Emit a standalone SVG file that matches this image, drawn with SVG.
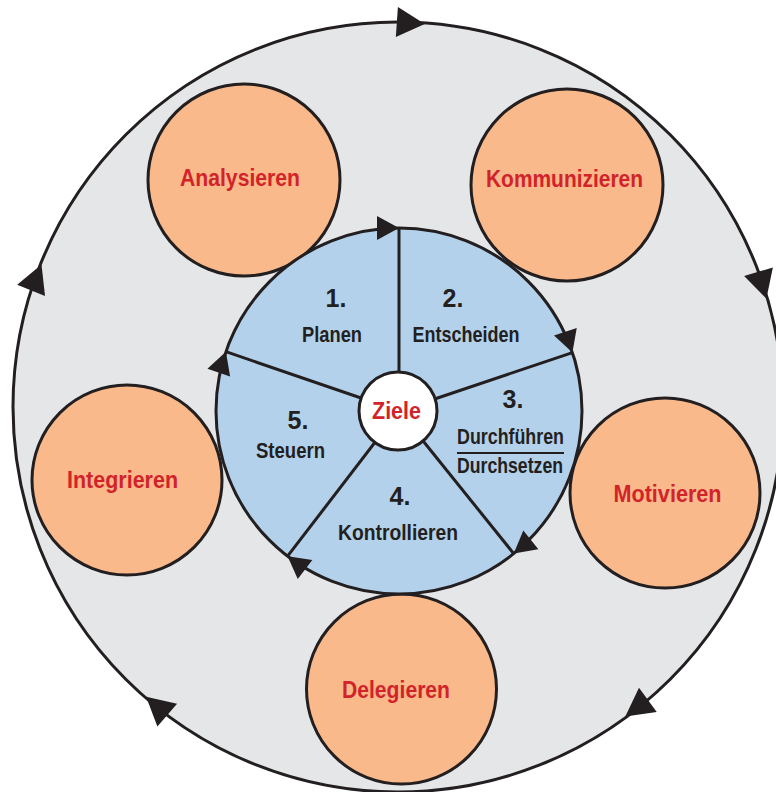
<svg xmlns="http://www.w3.org/2000/svg" xmlns:xlink="http://www.w3.org/1999/xlink" width="776" height="792" viewBox="0 0 776 792">
<style>
.ring{fill:#E5E6E8;stroke:#231F20;stroke-width:3}
.task{fill:#F9B98A;stroke:#231F20;stroke-width:3}
.wheel{fill:#B3D1EA;stroke:#231F20;stroke-width:3}
.hub{fill:#FFFFFF;stroke:#231F20;stroke-width:3}
.spoke{stroke:#231F20;stroke-width:3;fill:none}
.head{fill:#231F20}
.red{font-family:"Liberation Sans",Arial,sans-serif;font-weight:bold;font-size:24px;fill:#D2232A;text-anchor:middle}
.num{font-family:"Liberation Sans",Arial,sans-serif;font-weight:bold;font-size:25px;fill:#231F20;text-anchor:middle}
.lbl{font-family:"Liberation Sans",Arial,sans-serif;font-weight:bold;font-size:22px;fill:#231F20;text-anchor:middle}
</style>
<defs>
<path id="bigHead" d="M0,0 L-28,-15 L-28,15 Z"/>
<path id="smallHead" d="M0,0 L-22,-12 L-22,12 Z"/>
</defs>
<rect x="0" y="0" width="776" height="792" fill="#FFFFFF"/>
<g id="outer-cycle">
<circle class="ring" cx="398" cy="407" r="385"/>
</g>
<g id="connectors">
<use href="#bigHead" class="head" transform="translate(424.8,23.9) rotate(4)"/>
<use href="#bigHead" class="head" transform="translate(766.4,298.6) rotate(73.6)"/>
<use href="#bigHead" class="head" transform="translate(625.3,716.5) rotate(143.7)"/>
<use href="#bigHead" class="head" transform="translate(146.1,696.8) rotate(221)"/>
<use href="#bigHead" class="head" transform="translate(41.5,264.4) rotate(291.8)"/>
</g>
<g id="analysieren"><circle class="task" cx="244" cy="180" r="96"/><text class="red" x="240" y="186" textLength="120" lengthAdjust="spacingAndGlyphs">Analysieren</text></g>
<g id="kommunizieren"><circle class="task" cx="567" cy="185" r="96"/><text class="red" x="564.5" y="187" textLength="157" lengthAdjust="spacingAndGlyphs">Kommunizieren</text></g>
<g id="motivieren"><circle class="task" cx="665" cy="493" r="95"/><text class="red" x="667.5" y="502" textLength="108" lengthAdjust="spacingAndGlyphs">Motivieren</text></g>
<g id="integrieren"><circle class="task" cx="127" cy="480" r="95"/><text class="red" x="122.5" y="488" textLength="111" lengthAdjust="spacingAndGlyphs">Integrieren</text></g>
<g id="delegieren"><circle class="task" cx="401.5" cy="689" r="95"/><text class="red" x="396" y="698" textLength="108" lengthAdjust="spacingAndGlyphs">Delegieren</text></g>
<g id="management-wheel">
<circle class="wheel" cx="399" cy="411" r="183"/>
</g>
<g id="wheel-connectors">
<line class="spoke" x1="399" y1="411" x2="399" y2="228"/>
<line class="spoke" x1="399" y1="411" x2="572.4" y2="352.6"/>
<line class="spoke" x1="399" y1="411" x2="513.7" y2="553.6"/>
<line class="spoke" x1="399" y1="411" x2="287.6" y2="556.2"/>
<line class="spoke" x1="399" y1="411" x2="225.9" y2="351.7"/>
<use href="#smallHead" class="head" transform="translate(399,228) rotate(0)"/>
<use href="#smallHead" class="head" transform="translate(572.4,352.6) rotate(71.4)"/>
<use href="#smallHead" class="head" transform="translate(513.7,553.6) rotate(141.2)"/>
<use href="#smallHead" class="head" transform="translate(287.6,556.2) rotate(217.5)"/>
<use href="#smallHead" class="head" transform="translate(225.9,351.7) rotate(288.9)"/>
</g>
<g id="planen"><text class="num" x="336" y="307">1.</text><text class="lbl" x="332" y="342" textLength="60" lengthAdjust="spacingAndGlyphs">Planen</text></g>
<g id="entscheiden"><text class="num" x="453" y="307">2.</text><text class="lbl" x="466" y="342" textLength="107" lengthAdjust="spacingAndGlyphs">Entscheiden</text></g>
<g id="durchfuehren"><text class="num" x="513" y="408">3.</text><text class="lbl" x="510.5" y="444" textLength="107" lengthAdjust="spacingAndGlyphs">Durchführen</text><line x1="457" y1="453" x2="564" y2="453" stroke="#231F20" stroke-width="2"/><text class="lbl" x="510" y="473" textLength="106" lengthAdjust="spacingAndGlyphs">Durchsetzen</text></g>
<g id="kontrollieren"><text class="num" x="400" y="505">4.</text><text class="lbl" x="398" y="540" textLength="120" lengthAdjust="spacingAndGlyphs">Kontrollieren</text></g>
<g id="steuern"><text class="num" x="298" y="429">5.</text><text class="lbl" x="290.5" y="458" textLength="69" lengthAdjust="spacingAndGlyphs">Steuern</text></g>
<g id="ziele"><circle class="hub" cx="398" cy="411" r="39"/><text class="red" x="396.5" y="419" textLength="49" lengthAdjust="spacingAndGlyphs">Ziele</text></g>
</svg>
